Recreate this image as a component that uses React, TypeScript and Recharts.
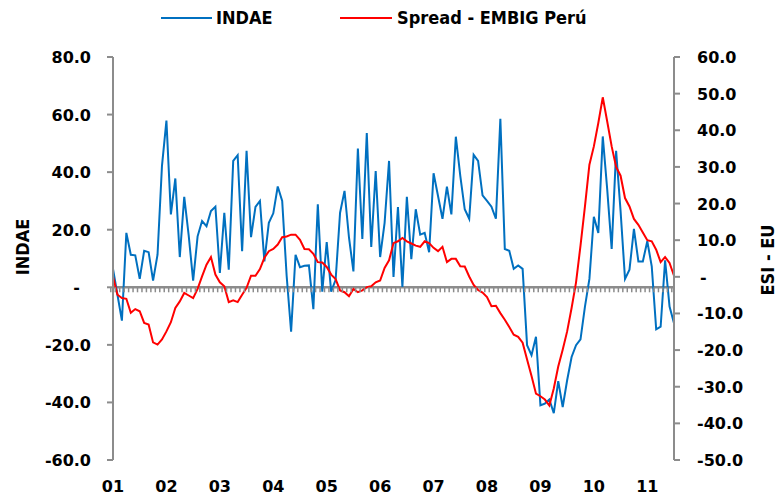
import React from "react";
import { ComposedChart, Line, XAxis, YAxis, ReferenceLine, Legend } from "recharts";

// year labels shown under the axis (2001..2011)
const years = ["01", "02", "03", "04", "05", "06", "07", "08", "09", "10", "11"];

// INDAE, monthly Jan-2001 .. Jul-2011 (left axis)
const indae = [
  6.4, -2.6, -11.6, 18.9, 11.3, 11.1, 2.9, 12.7, 12.2, 2.3, 11.3, 42.2,
  57.9, 25.3, 37.8, 10.5, 31.4, 18.0, 2.3, 17.7, 23.0, 21.2, 26.5, 28.0,
  5.0, 25.9, 6.1, 43.9, 45.9, 12.5, 47.4, 17.4, 27.9, 30.0, 9.0, 22.4,
  25.7, 35.0, 30.0, 4.0, -15.4, 11.3, 7.0, 7.5, 7.6, -7.6, 28.8, -1.5,
  15.7, -1.5, 2.6, 25.9, 33.5, 17.3, 5.5, 48.2, 16.8, 53.6, 14.0, 40.4,
  10.5, 22.4, 43.9, 3.6, 27.9, 0.1, 31.4, 9.8, 27.1, 18.3, 18.9, 12.2,
  39.6, 31.7, 23.8, 35.0, 25.3, 52.3, 38.7, 27.1, 23.8, 46.0, 43.9, 31.9,
  30.0, 28.0, 23.8, 58.5, 13.3, 12.7, 6.4, 7.6, 6.4, -20.1, -23.6, -17.2,
  -41.0, -40.4, -39.0, -43.7, -32.6, -41.6, -32.3, -24.2, -20.1, -18.1, -6.7, 2.9,
  24.5, 18.9, 52.4, 34.0, 13.3, 47.4, 26.5, 2.9, 6.1, 20.3, 9.0, 9.0,
  16.0, 7.3, -14.6, -13.7, 9.4, -6.7, -12.5,
];

// Spread - EMBIG Perú (right axis)
const spread = [
  0.0, -4.9, -5.8, -6.0, -9.8, -8.8, -9.4, -12.6, -13.0, -17.9, -18.5, -17.1,
  -14.9, -12.4, -8.5, -6.7, -4.4, -5.1, -5.8, -3.3, 0.1, 3.3, 5.4, 0.6,
  -1.5, -2.6, -6.9, -6.4, -6.9, -4.9, -3.0, 0.3, 0.3, 2.1, 5.2, 7.0,
  7.6, 8.8, 10.8, 11.0, 11.5, 11.5, 10.1, 7.6, 7.5, 6.3, 4.0, 3.9,
  2.7, 0.6, -0.6, -3.7, -4.2, -5.3, -3.3, -4.2, -3.7, -2.8, -2.6, -1.5,
  -1.0, 2.4, 4.5, 9.2, 9.7, 10.6, 9.7, 9.1, 8.5, 8.2, 9.7, 9.2,
  7.9, 7.0, 8.2, 4.0, 4.9, 4.9, 2.9, 2.8, 0.1, -2.2, -3.6, -4.3,
  -5.5, -8.0, -7.9, -9.9, -11.7, -13.7, -15.8, -16.4, -18.0, -22.6, -27.1, -31.9,
  -32.6, -33.5, -35.1, -30.5, -24.5, -19.9, -14.9, -8.5, -1.5, 8.5, 19.2, 30.6,
  35.6, 42.0, 49.0, 42.4, 35.6, 30.0, 27.6, 21.5, 19.2, 15.8, 14.2, 12.1,
  10.0, 9.7, 7.4, 4.0, 5.4, 3.8, 0.3,
];

const leftTicks = [-60, -40, -20, 0, 20, 40, 60, 80];
const rightTicks = [-50, -40, -30, -20, -10, 0, 10, 20, 30, 40, 50, 60];

const months = indae.map((_, i) => `${years[Math.floor(i / 12)]}-${(i % 12) + 1}`);
const data = months.map((m, i) => ({ m, indae: indae[i], spread: spread[i], base: 0 }));

const AXIS = "#8c8c8c";
const BLUE = "#0070C0";
const RED = "#FF0000";
const numFont = "'DejaVu Sans', Verdana, sans-serif";
const textFont = "'Liberation Sans Narrow', 'DejaVu Sans Condensed', sans-serif";
const LEGEND_H = 36;

const LeftTick = ({ x, y, payload }: any) =>
  payload.value === 0 ? (
    <text x={x - 11} y={y} dy={6} textAnchor="end" fontFamily={numFont} fontWeight="bold" fontSize={16} fill="#000">-</text>
  ) : (
    <text x={x} y={y} dy={6} textAnchor="end" fontFamily={numFont} fontWeight="bold" fontSize={16} fill="#000">
      {payload.value.toFixed(1)}
    </text>
  );

const RightTick = ({ x, y, payload }: any) =>
  payload.value === 0 ? (
    <text x={x + 3} y={y} dy={6} textAnchor="start" fontFamily={numFont} fontWeight="bold" fontSize={16} fill="#000">-</text>
  ) : (
    <text x={x} y={y} dy={6} textAnchor="start" fontFamily={numFont} fontWeight="bold" fontSize={16} fill="#000">
      {payload.value.toFixed(1)}
    </text>
  );

const MonthTick = ({ x, y, payload }: any) => (
  <text x={x} y={y + 24} textAnchor="middle" fontFamily={numFont} fontWeight="bold" fontSize={16} fill="#000">
    {payload.value.split("-")[0]}
  </text>
);

// small month marks hanging under the zero line
const ZeroMark = ({ cx, cy, index }: any) => (
  <line key={index} x1={cx - 2.2} x2={cx - 2.2} y1={cy} y2={cy + 5} stroke={AXIS} strokeWidth={1.5} />
);

const renderLegend = () => (
  <div style={{ position: "relative", width: 778, height: LEGEND_H, fontFamily: textFont, fontWeight: "bold", fontSize: 18 }}>
    <div style={{ position: "absolute", left: 161, top: 17, width: 51, height: 2, background: BLUE }} />
    <div style={{ position: "absolute", left: 216, top: 6, lineHeight: "24px" }}>INDAE</div>
    <div style={{ position: "absolute", left: 340, top: 17, width: 52, height: 2, background: RED }} />
    <div style={{ position: "absolute", left: 397, top: 6, lineHeight: "24px" }}>Spread - EMBIG Perú</div>
  </div>
);

export default function App() {
  return (
    <div style={{ position: "absolute", left: 0, top: 0, background: "#fff" }}>
      <ComposedChart width={778} height={497} data={data} margin={{ top: 57 - LEGEND_H, right: 0, bottom: 0, left: 0 }}>
        <Legend verticalAlign="top" content={renderLegend} wrapperStyle={{ top: 0, left: 0, height: LEGEND_H }} />
        <XAxis
          dataKey="m"
          interval={11}
          height={37}
          axisLine={false}
          tickLine={false}
          tick={<MonthTick />}
        />
        <YAxis
          yAxisId="left"
          domain={[-60, 80]}
          ticks={leftTicks}
          width={113}
          stroke={AXIS}
          axisLine={{ stroke: AXIS, strokeWidth: 2 }}
          tickLine={{ stroke: AXIS, strokeWidth: 2 }}
          tickSize={6}
          tickMargin={16}
          tick={<LeftTick />}
          label={() => (
            <text x={23} y={247} transform="rotate(-90 23 247)" textAnchor="middle" dy={6} fontFamily={textFont} fontWeight="bold" fontSize={18} fill="#000">
              INDAE
            </text>
          )}
        />
        <YAxis
          yAxisId="right"
          orientation="right"
          domain={[-50, 60]}
          ticks={rightTicks}
          width={104}
          stroke={AXIS}
          axisLine={{ stroke: AXIS, strokeWidth: 2 }}
          tickLine={{ stroke: AXIS, strokeWidth: 2 }}
          tickSize={6}
          tickMargin={17}
          tick={<RightTick />}
          label={() => (
            <text x={768} y={260} transform="rotate(-90 768 260)" textAnchor="middle" dy={6} fontFamily={textFont} fontWeight="bold" fontSize={18} fill="#000">
              ESI - EU
            </text>
          )}
        />
        <ReferenceLine yAxisId="left" y={0} stroke={AXIS} strokeWidth={2.5} />
        <Line yAxisId="left" dataKey="base" stroke="none" dot={<ZeroMark />} activeDot={false} isAnimationActive={false} legendType="none" />
        <Line yAxisId="left" type="linear" dataKey="indae" name="INDAE" stroke={BLUE} strokeWidth={2} dot={false} isAnimationActive={false} />
        <Line yAxisId="right" type="linear" dataKey="spread" name="Spread - EMBIG Perú" stroke={RED} strokeWidth={2} dot={false} isAnimationActive={false} />
      </ComposedChart>
    </div>
  );
}
